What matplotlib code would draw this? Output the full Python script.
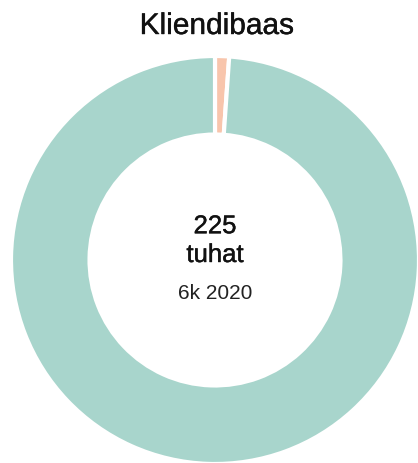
import matplotlib.pyplot as plt
import matplotlib.patheffects as pe

# andmed
labels = ['Muu', 'Kliendid']
values = [2.5, 222.5]
colors = ['#f8c5ac', '#a8d5cc']

title = 'Kliendibaas'
center_main = '225\ntuhat'
center_sub = '6k 2020'

plt.rcParams['font.family'] = ['Liberation Sans', 'DejaVu Sans']

fig = plt.figure(figsize=(4.18, 4.64), dpi=100)
W, H = 418, 464
cx, cy, r = 215, 261, 204  # pikslites, ülevalt
ax = fig.add_axes([(cx - r) / W, (H - cy - r) / H, 2 * r / W, 2 * r / H])

ax.pie(values, colors=colors, startangle=90, counterclock=False,
       radius=1, wedgeprops=dict(width=0.385, edgecolor='white', linewidth=3))
ax.set_xlim(-1, 1)
ax.set_ylim(-1, 1)
ax.set_aspect('equal')
ax.axis('off')

semibold = [pe.withStroke(linewidth=0.3, foreground='#111111')]
ax.text(0, 0.095, center_main, ha='center', va='center', fontsize=18.5,
        linespacing=1.25, color='#111111', path_effects=semibold)
ax.text(0, -0.16, center_sub, ha='center', va='center', fontsize=15,
        color='#222222')

fig.text(217 / W, 1 - 27 / H, title, ha='center', va='center', fontsize=21.5,
         color='#111111', path_effects=semibold)

plt.savefig('out.png', dpi=100)
